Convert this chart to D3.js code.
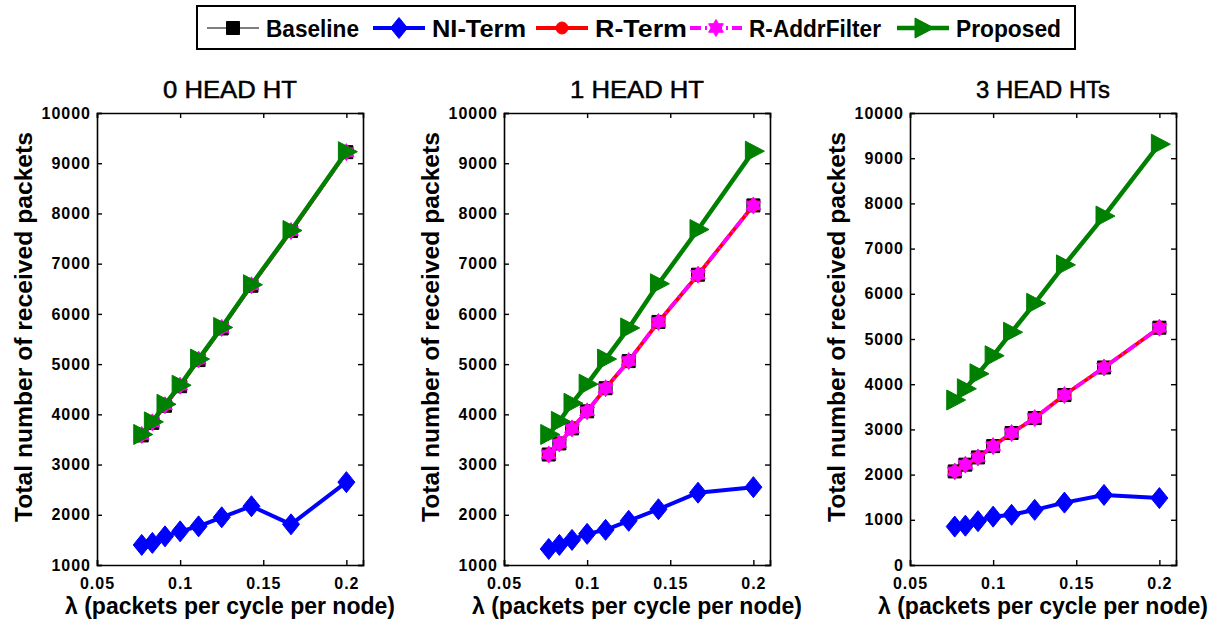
<!DOCTYPE html>
<html>
<head>
<meta charset="utf-8">
<script src="https://cdn.jsdelivr.net/npm/d3@7"></script>
<style>
  body { margin: 0; background: #fff; }
  svg { display: block; }
  text { font-family: "Liberation Sans", Arial, Helvetica, sans-serif; fill: #000; }
</style>
</head>
<body>
<svg id="chart" width="1221" height="626"></svg>
<script>
// %%%%%%%%%%%%%%%%%%%%
// % Data             %
// %%%%%%%%%%%%%%%%%%%%

var lambdas = [0.0769, 0.0833, 0.0909, 0.1, 0.1111, 0.125, 0.1429, 0.1667, 0.2];
var panelTitles = ["0 HEAD HT", "1 HEAD HT", "3 HEAD HTs"];
var seriesNames = ["Baseline", "NI-Term", "R-Term", "R-AddrFilter", "Proposed"];
var xTicks = [0.05, 0.1, 0.15, 0.2];
var xTickLabels = ["0.05", "0.1", "0.15", "0.2"];
var yTicksA = [1000, 2000, 3000, 4000, 5000, 6000, 7000, 8000, 9000, 10000];
var yTicksB = [0, 1000, 2000, 3000, 4000, 5000, 6000, 7000, 8000, 9000, 10000];

// one row per panel
var baseline = [
    [3580, 3830, 4170, 4560, 5080, 5710, 6560, 7650, 9220],
    [3200, 3420, 3720, 4060, 4520, 5060, 5840, 6780, 8160],
    [2070, 2220, 2380, 2630, 2920, 3250, 3760, 4370, 5250]
];
var niTerm = [
    [1400, 1440, 1570, 1670, 1770, 1950, 2170, 1810, 2650],
    [1320, 1400, 1500, 1620, 1700, 1880, 2110, 2440, 2550],
    [850, 870, 970, 1070, 1110, 1220, 1380, 1550, 1480]
];
var rTerm = [
    [3590, 3840, 4180, 4570, 5090, 5720, 6570, 7650, 9220],
    [3200, 3420, 3720, 4060, 4520, 5060, 5840, 6780, 8160],
    [2070, 2220, 2380, 2630, 2920, 3250, 3760, 4370, 5250]
];
var rAddrFilter = [
    [3590, 3840, 4180, 4570, 5090, 5720, 6570, 7650, 9220],
    [3200, 3420, 3720, 4060, 4520, 5060, 5840, 6780, 8160],
    [2070, 2220, 2380, 2630, 2920, 3250, 3760, 4370, 5250]
];
var proposed = [
    [3600, 3850, 4200, 4580, 5100, 5730, 6580, 7660, 9230],
    [3600, 3860, 4220, 4600, 5100, 5720, 6600, 7680, 9240],
    [3650, 3900, 4230, 4630, 5150, 5790, 6640, 7720, 9310]
];

// %%%%%%%%%%%%%%%%%%%%
// % Styles & layout  %
// %%%%%%%%%%%%%%%%%%%%

var svg = d3.select("#chart");

// marker shapes, centred on 0,0
function squarePath(s) { return "M" + (-s) + "," + (-s) + "H" + s + "V" + s + "H" + (-s) + "Z"; }
function diamondPath(w, h) { return "M0," + (-h) + "L" + w + ",0L0," + h + "L" + (-w) + ",0Z"; }
function trianglePath(s) { return "M" + (s * 1.1) + ",0L" + (-s * 0.8) + "," + (-s) + "L" + (-s * 0.8) + "," + s + "Z"; }
function hexagramPath(r) {
    var pts = [];
    for (var i = 0; i < 12; i++) {
        var a = -Math.PI / 2 + i * Math.PI / 6;
        var rr = (i % 2 === 0) ? r : r * 0.58;
        pts.push([rr * Math.cos(a), rr * Math.sin(a)]);
    }
    return "M" + pts.map(function (p) { return p[0].toFixed(2) + "," + p[1].toFixed(2); }).join("L") + "Z";
}
function circlePath(r) { return d3.symbol().type(d3.symbolCircle).size(Math.PI * r * r)(); }

var styles = [
    { color: "#000000", width: 1, dash: null, marker: squarePath(6.5) },
    { color: "#0000ff", width: 4, dash: null, marker: diamondPath(8.5, 10.5) },
    { color: "#ff0000", width: 3.8, dash: null, marker: circlePath(6) },
    { color: "#ff00ff", width: 3.8, dash: "11,4,2,4", marker: hexagramPath(8.5) },
    { color: "#008000", width: 4.5, dash: null, marker: trianglePath(10) }
];
var allSeries = [baseline, niTerm, rTerm, rAddrFilter, proposed];

var panelLeft = [97, 504, 910];
var plotW = 266, plotTop = 113, plotBottom = 565;
var yDomains = [[1000, 10000], [1000, 10000], [0, 10000]];
var yTickSets = [yTicksA, yTicksA, yTicksB];

// %%%%%%%%%%%%%%%%%%%%
// % Panels           %
// %%%%%%%%%%%%%%%%%%%%

panelTitles.forEach(function (title, p) {
    var left = panelLeft[p];
    var x = d3.scaleLinear().domain([0.05, 0.21]).range([left, left + plotW]);
    var y = d3.scaleLinear().domain(yDomains[p]).range([plotBottom, plotTop]);
    var g = svg.append("g").attr("class", "panel");

    // bottom axis (ticks inward) + top mirror
    var xAxis = g.append("g")
        .attr("transform", "translate(0," + plotBottom + ")")
        .call(d3.axisBottom(x).tickValues(xTicks).tickSize(-5).tickPadding(15)
            .tickFormat(function (d, i) { return xTickLabels[i]; }));
    g.append("g")
        .attr("transform", "translate(0," + plotTop + ")")
        .call(d3.axisTop(x).tickValues(xTicks).tickSize(-5).tickFormat(""));

    var yAxis = g.append("g")
        .attr("transform", "translate(" + left + ",0)")
        .call(d3.axisLeft(y).tickValues(yTickSets[p]).tickSize(-5).tickPadding(6)
            .tickFormat(d3.format("d")));
    g.append("g")
        .attr("transform", "translate(" + (left + plotW) + ",0)")
        .call(d3.axisRight(y).tickValues(yTickSets[p]).tickSize(-5).tickFormat(""));

    g.selectAll(".domain").attr("stroke", "#000").attr("stroke-width", 1.6);
    g.selectAll(".tick line").attr("stroke", "#000").attr("stroke-width", 1.4);
    g.selectAll(".tick text")
        .style("font-size", "16px")
        .style("font-weight", "bold")
        .style("letter-spacing", "1px")
        .style("font-family", "'Liberation Sans', Arial, sans-serif")
        .attr("fill", "#000");
    xAxis.selectAll(".tick text").attr("dy", "0.55em");

    // lines and markers
    var line = d3.line()
        .x(function (d) { return x(d[0]); })
        .y(function (d) { return y(d[1]); });

    allSeries.forEach(function (series, s) {
        var st = styles[s];
        var pts = lambdas.map(function (l, i) { return [l, series[p][i]]; });
        var sg = g.append("g").attr("class", "series");
        sg.append("path")
            .datum(pts)
            .attr("d", line)
            .attr("fill", "none")
            .attr("stroke", st.color)
            .attr("stroke-width", st.width)
            .attr("stroke-dasharray", st.dash)
            .attr("stroke-linejoin", "round");
        sg.selectAll("path.mk")
            .data(pts)
            .enter()
            .append("path")
            .attr("class", "mk")
            .attr("d", st.marker)
            .attr("transform", function (d) { return "translate(" + x(d[0]) + "," + y(d[1]) + ")"; })
            .attr("fill", st.color)
            .attr("stroke", st.color)
            .attr("stroke-width", 1);
    });

    // title and axis labels
    var cx = left + plotW / 2;
    g.append("text")
        .attr("x", cx).attr("y", 98)
        .attr("text-anchor", "middle")
        .style("font-size", "24px")
        .style("stroke", "#000")
        .style("stroke-width", 0.5)
        .attr("textLength", 134)
        .attr("lengthAdjust", "spacingAndGlyphs")
        .text(title);
    g.append("text")
        .attr("x", cx).attr("y", 614)
        .attr("text-anchor", "middle")
        .style("font-size", "23px")
        .style("font-weight", "bold")
        .attr("textLength", 330)
        .attr("lengthAdjust", "spacingAndGlyphs")
        .text("λ (packets per cycle per node)");
    g.append("text")
        .attr("transform", "translate(" + (left - 65) + "," + ((plotTop + plotBottom) / 2 - 12) + ") rotate(-90)")
        .attr("text-anchor", "middle")
        .style("font-size", "23px")
        .style("font-weight", "bold")
        .attr("textLength", 390)
        .attr("lengthAdjust", "spacingAndGlyphs")
        .text("Total number of received packets");
});

// %%%%%%%%%%%%%%%%%%%%
// % Legend           %
// %%%%%%%%%%%%%%%%%%%%

var legendX = [207, 373, 536, 690, 897];
var legendTextW = [93, 94, 92, 132, 105];
var legend = svg.append("g").attr("class", "legend");
legend.append("rect")
    .attr("x", 197).attr("y", 6)
    .attr("width", 878).attr("height", 43)
    .attr("fill", "#fff")
    .attr("stroke", "#000")
    .attr("stroke-width", 2);

seriesNames.forEach(function (name, s) {
    var st = styles[s];
    var lx = legendX[s], ly = 28;
    legend.append("line")
        .attr("x1", lx).attr("x2", lx + 52)
        .attr("y1", ly).attr("y2", ly)
        .attr("stroke", st.color)
        .attr("stroke-width", st.width)
        .attr("stroke-dasharray", st.dash);
    legend.append("path")
        .attr("d", st.marker)
        .attr("transform", "translate(" + (lx + 26) + "," + ly + ")")
        .attr("fill", st.color)
        .attr("stroke", st.color);
    legend.append("text")
        .attr("x", lx + 59).attr("y", ly + 8.5)
        .style("font-size", "24px")
        .style("font-weight", "bold")
        .attr("textLength", legendTextW[s])
        .attr("lengthAdjust", "spacingAndGlyphs")
        .text(name);
});
</script>
</body>
</html>
